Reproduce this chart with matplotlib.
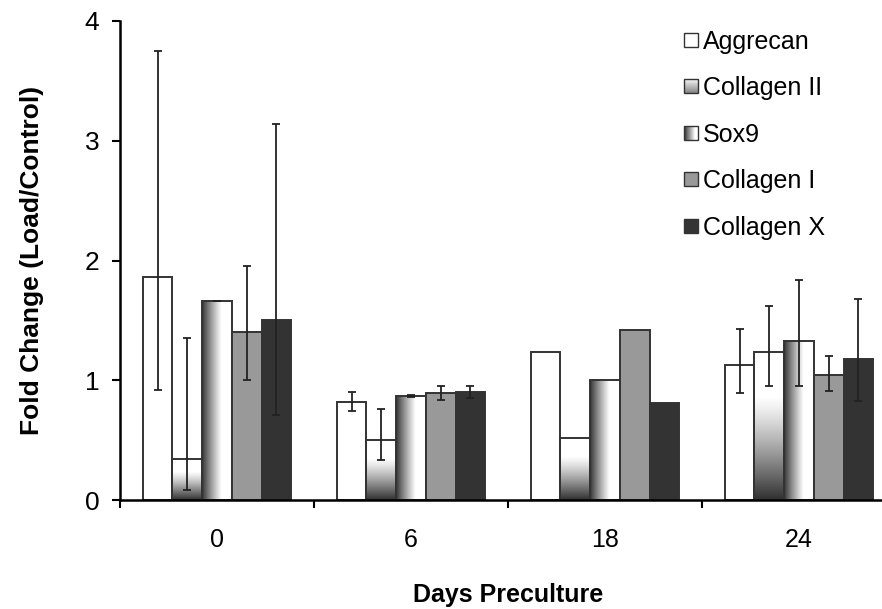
import numpy as np
import matplotlib
matplotlib.use("Agg")
import matplotlib.pyplot as plt
from matplotlib.patches import Rectangle
from matplotlib.legend_handler import HandlerBase
from matplotlib.image import BboxImage
from matplotlib.transforms import Bbox, TransformedBbox

plt.rcParams['font.family'] = ['Liberation Sans', 'DejaVu Sans']

categories = ["0", "6", "18", "24"]
series = ["Aggrecan", "Collagen II", "Sox9", "Collagen I", "Collagen X"]
values = {
    "Aggrecan":    [1.86, 0.82, 1.24, 1.13],
    "Collagen II": [0.34, 0.50, 0.52, 1.24],
    "Sox9":        [1.66, 0.866, 1.00, 1.33],
    "Collagen I":  [1.40, 0.89, 1.42, 1.04],
    "Collagen X":  [1.50, 0.90, 0.81, 1.18],
}
err_low = {
    "Aggrecan":    [0.94, 0.08, 0.0, 0.24],
    "Collagen II": [0.26, 0.17, 0.0, 0.29],
    "Sox9":        [0.0, 0.01, 0.0, 0.38],
    "Collagen I":  [0.40, 0.055, 0.0, 0.13],
    "Collagen X":  [0.79, 0.05, 0.0, 0.35],
}
err_high = {
    "Aggrecan":    [1.89, 0.08, 0.0, 0.30],
    "Collagen II": [1.01, 0.26, 0.0, 0.38],
    "Sox9":        [0.0, 0.01, 0.0, 0.51],
    "Collagen I":  [0.55, 0.065, 0.0, 0.16],
    "Collagen X":  [1.64, 0.055, 0.0, 0.50],
}
has_err = [True, True, False, True]

styles = {
    "Aggrecan": ("solid", "#ffffff"),
    "Collagen II": ("vgrad", None),
    "Sox9": ("hgrad", None),
    "Collagen I": ("solid", "#999999"),
    "Collagen X": ("solid", "#333333"),
}
EDGE = "#333333"
DARK = 0.19


def vgrad_img(n=200):
    t = np.linspace(0, 1, n)  # 0 top -> 1 bottom
    v = np.where(t < 0.3, 1.0, 1.0 - (1.0 - DARK) * ((t - 0.3) / 0.7) ** 1.2)
    return np.repeat(v[:, None], 2, axis=1)


def hgrad_img(n=200):
    s = np.linspace(0, 1, n)  # 0 left -> 1 right
    v = np.where(s > 0.65, 1.0, DARK + (1.0 - DARK) * (s / 0.65) ** 0.9)
    return np.repeat(v[None, :], 2, axis=0)


fig = plt.figure(figsize=(8.82, 6.09), dpi=100)
ax = fig.add_axes([120 / 882, 109 / 609, 776 / 882, 479 / 609])

x = np.arange(len(categories))
bw = 0.153
handles = []
for i, s in enumerate(series):
    kind, col = styles[s]
    pos = x + (i - 2) * bw
    fc = col if kind == "solid" else "none"
    bars = ax.bar(pos, values[s], width=bw, facecolor=fc, edgecolor=EDGE,
                  linewidth=1.4, zorder=3)
    if kind != "solid":
        img = vgrad_img() if kind == "vgrad" else hgrad_img()
        for b in bars:
            x0, w, h = b.get_x(), b.get_width(), b.get_height()
            im = ax.imshow(img, cmap="gray", vmin=0, vmax=1, aspect="auto",
                           extent=[x0, x0 + w, 0, h], zorder=2.5,
                           interpolation="bilinear")
            im.set_clip_path(b)
    ex = [p for p, e in zip(pos, has_err) if e]
    ey = [v for v, e in zip(values[s], has_err) if e]
    el = [v for v, e in zip(err_low[s], has_err) if e]
    eh = [v for v, e in zip(err_high[s], has_err) if e]
    ax.errorbar(ex, ey, yerr=[el, eh], fmt="none", ecolor="#222222",
                elinewidth=1.3, capsize=3, capthick=1.3, zorder=4)
    handles.append(Rectangle((0, 0), 1, 1, facecolor=fc if kind == "solid" else "#888888",
                             edgecolor=EDGE, linewidth=1.0, label=s))


class HandlerGrad(HandlerBase):
    def __init__(self, kind):
        super().__init__()
        self.kind = kind

    def create_artists(self, legend, orig_handle, xdescent, ydescent, width,
                       height, fontsize, trans):
        size = min(width, height)
        x0 = -xdescent + (width - size) / 2
        y0 = -ydescent + (height - size) / 2
        if self.kind == "vgrad":
            t = np.linspace(0, 1, 50)
            v = 0.97 - 0.45 * t
            img = np.repeat(v[:, None], 2, axis=1)
        else:
            s = np.linspace(0, 1, 50)
            v = np.clip(DARK + (1 - DARK) * s / 0.8, 0, 1)
            img = np.repeat(v[None, :], 2, axis=0)
        bb = TransformedBbox(Bbox.from_bounds(x0, y0, size, size), trans)
        bim = BboxImage(bb, cmap="gray", norm=matplotlib.colors.Normalize(0, 1),
                        interpolation="bilinear")
        bim.set_data(img)
        r = Rectangle((x0, y0), size, size, facecolor="none", edgecolor=EDGE,
                      linewidth=1.0, transform=trans)
        return [bim, r]


class HandlerSq(HandlerBase):
    def create_artists(self, legend, orig_handle, xdescent, ydescent, width,
                       height, fontsize, trans):
        size = min(width, height)
        x0 = -xdescent + (width - size) / 2
        y0 = -ydescent + (height - size) / 2
        r = Rectangle((x0, y0), size, size, facecolor=orig_handle.get_facecolor(),
                      edgecolor=EDGE, linewidth=1.0, transform=trans)
        return [r]


hmap = {handles[0]: HandlerSq(), handles[1]: HandlerGrad("vgrad"),
        handles[2]: HandlerGrad("hgrad"), handles[3]: HandlerSq(),
        handles[4]: HandlerSq()}
leg = ax.legend(handles=handles, handler_map=hmap, loc="upper left",
                bbox_to_anchor=(666 / 882, 1 - 12 / 609),
                bbox_transform=fig.transFigure, frameon=False, fontsize=18,
                handlelength=0.56, handleheight=0.56, handletextpad=0.22,
                labelspacing=0.9, borderpad=0.2)

ax.set_xlim(-0.5, len(categories) - 0.5)
ax.set_ylim(0, 4)
ax.set_yticks([0, 1, 2, 3, 4])
ax.set_xticks(np.arange(len(categories) + 1) - 0.5)
ax.set_xticklabels([])
ax.set_xticks(x, minor=True)
ax.set_xticklabels(categories, minor=True)
ax.tick_params(axis="x", which="minor", length=0, pad=20, labelsize=18)
ax.tick_params(axis="x", which="major", length=6, width=1.5, direction="out")
ax.tick_params(axis="y", length=6, width=1.5, direction="out", labelsize=19, pad=9)
for sp in ["top", "right"]:
    ax.spines[sp].set_visible(False)
for sp in ["left", "bottom"]:
    ax.spines[sp].set_linewidth(1.8)
    ax.spines[sp].set_zorder(5)

ax.set_ylabel("Fold Change (Load/Control)", fontsize=19, fontweight="bold")
ax.yaxis.set_label_coords(-0.098, 0.5)
ax.set_xlabel("Days Preculture", fontsize=18, fontweight="bold")
ax.xaxis.set_label_coords(0.5, -0.174)

fig.savefig("out.png", dpi=100)
